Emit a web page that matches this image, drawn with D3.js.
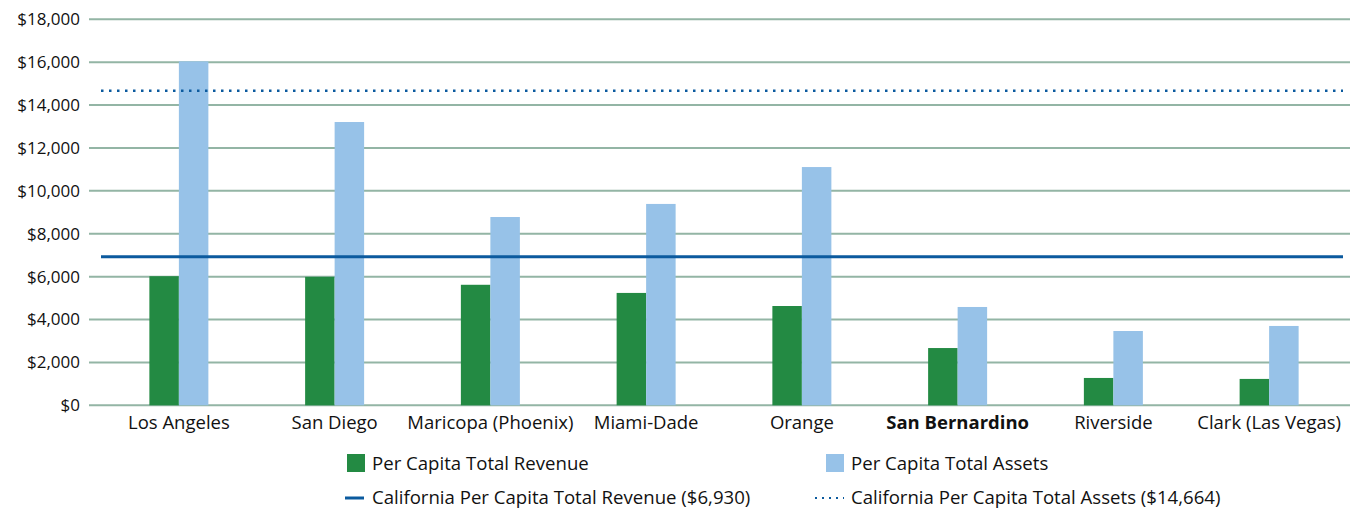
<!DOCTYPE html>
<html>

<head>
    <style type="text/css">
    html,
    body {
        margin: 0px;
        padding: 0px;
        background: #fff;
        font-family: 'Open Sans', 'Noto Sans', sans-serif;
    }

    .grid line {
        stroke: #93b5a5;
        stroke-width: 2px;
    }

    .tick-label {
        font-size: 17px;
        fill: #111;
    }

    .cat-label {
        font-size: 18.5px;
        fill: #111;
    }

    .legend text {
        font-size: 18.6px;
        fill: #111;
    }
    </style>
    <script src="https://d3js.org/d3.v7.min.js"></script>
    <title>Per Capita Revenue and Assets</title>
</head>

<body>
</body>
<script type="text/javascript">
// data
var counties = ["Los Angeles", "San Diego", "Maricopa (Phoenix)", "Miami-Dade", "Orange", "San Bernardino", "Riverside", "Clark (Las Vegas)"];
var revenue = [6020, 5990, 5620, 5240, 4630, 2670, 1275, 1230];
var assets = [16040, 13210, 8780, 9390, 11110, 4585, 3465, 3700];
var yTicks = [0, 2000, 4000, 6000, 8000, 10000, 12000, 14000, 16000, 18000];
var caRevenue = 6930;
var caAssets = 14664;

var width = 1359;
var height = 508;

var green = "#238a43";
var lightBlue = "#97c2e8";
var darkBlue = "#0b5a9e";

var svg = d3.select("body")
    .append("svg")
    .attr("width", width)
    .attr("height", height);

// scales
var y = d3.scaleLinear()
    .domain([0, 18000])
    .range([405.3, 19.3]);

var x = d3.scaleBand()
    .domain(counties)
    .range([101, 1347]);

var barW = 29.5;
var sub = d3.scaleBand()
    .domain(["revenue", "assets"])
    .range([-barW, barW]);

// gridlines
svg.append("g")
    .attr("class", "grid")
    .selectAll("line")
    .data(yTicks)
    .enter()
    .append("line")
    .attr("x1", 89)
    .attr("x2", 1350)
    .attr("y1", function(d) { return y(d); })
    .attr("y2", function(d) { return y(d); });

// y tick labels
svg.append("g")
    .selectAll("text")
    .data(yTicks)
    .enter()
    .append("text")
    .attr("class", "tick-label")
    .attr("x", 80)
    .attr("y", function(d) { return y(d); })
    .attr("dy", "0.35em")
    .attr("text-anchor", "end")
    .text(function(d) { return "$" + d3.format(",")(d); });

// bars
var groups = svg.append("g")
    .selectAll("g")
    .data(counties)
    .enter()
    .append("g")
    .attr("transform", function(d) { return "translate(" + (x(d) + x.bandwidth() / 2) + ",0)"; });

groups.append("rect")
    .attr("x", sub("revenue"))
    .attr("width", sub.bandwidth())
    .attr("y", function(d, i) { return y(revenue[i]); })
    .attr("height", function(d, i) { return y(0) - y(revenue[i]); })
    .attr("fill", green);

groups.append("rect")
    .attr("x", sub("assets"))
    .attr("width", sub.bandwidth())
    .attr("y", function(d, i) { return y(assets[i]); })
    .attr("height", function(d, i) { return y(0) - y(assets[i]); })
    .attr("fill", lightBlue);

// category labels
groups.append("text")
    .attr("class", "cat-label")
    .attr("y", 429)
    .attr("text-anchor", "middle")
    .style("font-weight", function(d) { return d == "San Bernardino" ? "bold" : "normal"; })
    .text(function(d) { return d; });

// California reference lines
svg.append("line")
    .attr("x1", x.range()[0])
    .attr("x2", x.range()[1] - 4)
    .attr("y1", y(caRevenue))
    .attr("y2", y(caRevenue))
    .attr("stroke", darkBlue)
    .attr("stroke-width", 3);

svg.append("line")
    .attr("x1", x.range()[0])
    .attr("x2", x.range()[1] - 4)
    .attr("y1", y(caAssets))
    .attr("y2", y(caAssets))
    .attr("stroke", darkBlue)
    .attr("stroke-width", 2.5)
    .attr("stroke-dasharray", "2.5,5.5");

// legend
var legend = svg.append("g").attr("class", "legend");

legend.append("rect")
    .attr("x", 347).attr("y", 454)
    .attr("width", 18).attr("height", 18)
    .attr("fill", green);
legend.append("text")
    .attr("x", 372).attr("y", 470)
    .text("Per Capita Total Revenue");

legend.append("rect")
    .attr("x", 826).attr("y", 454)
    .attr("width", 18).attr("height", 18)
    .attr("fill", lightBlue);
legend.append("text")
    .attr("x", 851).attr("y", 470)
    .text("Per Capita Total Assets");

legend.append("line")
    .attr("x1", 345).attr("x2", 364)
    .attr("y1", 498).attr("y2", 498)
    .attr("stroke", darkBlue)
    .attr("stroke-width", 3);
legend.append("text")
    .attr("x", 372).attr("y", 504)
    .text("California Per Capita Total Revenue ($" + d3.format(",")(caRevenue) + ")");

legend.append("line")
    .attr("x1", 815).attr("x2", 844)
    .attr("y1", 498).attr("y2", 498)
    .attr("stroke", darkBlue)
    .attr("stroke-width", 2)
    .attr("stroke-dasharray", "2,5");
legend.append("text")
    .attr("x", 851).attr("y", 504)
    .text("California Per Capita Total Assets ($" + d3.format(",")(caAssets) + ")");
</script>

</html>
